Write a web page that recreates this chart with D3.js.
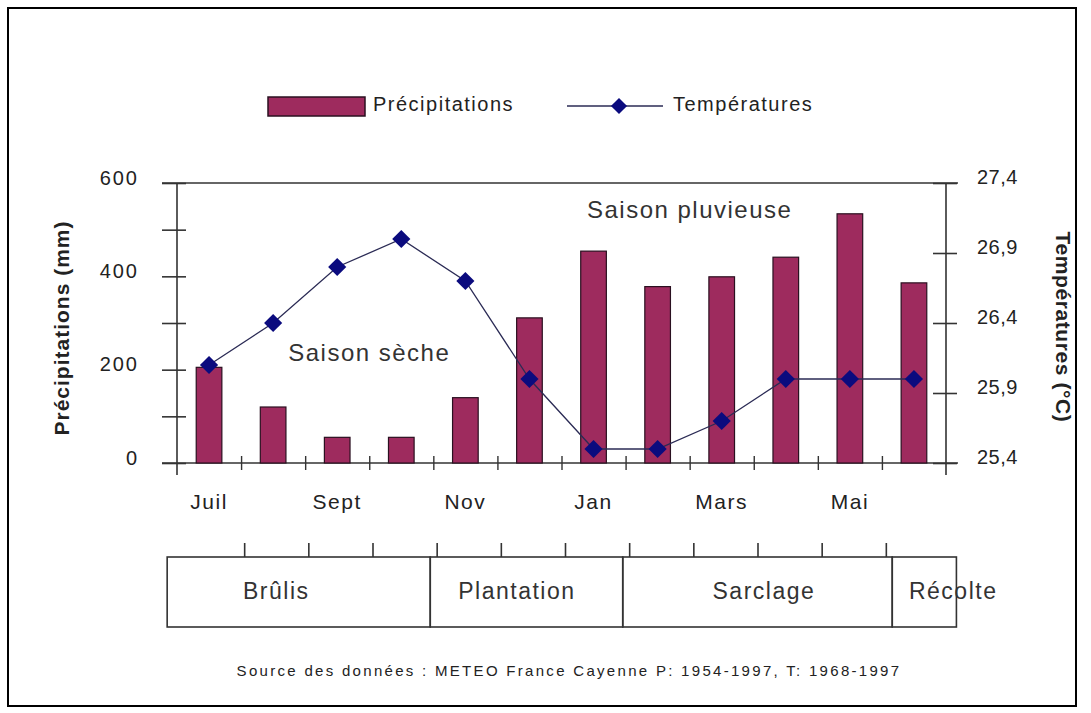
<!DOCTYPE html>
<html>
<head>
<meta charset="utf-8">
<script src="https://cdn.jsdelivr.net/npm/d3@7"></script>
<style>
  html, body { margin: 0; padding: 0; background: #fff; }
  svg { display: block; font-family: "Liberation Sans", Arial, sans-serif; }
</style>
</head>
<body>
<svg id="chart" width="1091" height="713"></svg>
<script>
// ---- data ----
const months = ["Juil","Août","Sept","Oct","Nov","Déc","Jan","Févr","Mars","Avr","Mai","Juin"];
const monthLabels = ["Juil","","Sept","","Nov","","Jan","","Mars","","Mai",""];
const precipitation = [205,120,55,55,140,311,454,378,399,441,534,386];
const temperature = [26.1,26.4,26.8,27.0,26.7,26.0,25.5,25.5,25.7,26.0,26.0,26.0];
const precipTicks = [0,100,200,300,400,500,600];
const precipTickLabels = [0,200,400,600];
const tempTicks = [25.4,25.9,26.4,26.9,27.4];
const phases = ["Brûlis","Plantation","Sarclage","Récolte"];
const phaseBounds = [-0.2,3.9,6.9,11.1,12.1];
const phaseLabelAt = [1.5,5.25,9.1,12.05];
const seasons = ["Saison sèche","Saison pluvieuse"];
const seasonAt = [3.0,8.0];
const seasonTemp = [26.19,27.21];
const legendNames = ["Précipitations","Températures"];
const sourceText = "Source des données : METEO France Cayenne P: 1954-1997, T: 1968-1997";

// ---- styles ----
const barColor = "#9e2b5e";
const markColor = "#0b0b7e";
const ink = "#222";
const fontSize = 20;

const svg = d3.select("#chart");

// outer frame
svg.append("rect").attr("x",8).attr("y",8).attr("width",1068).attr("height",698)
  .attr("fill","none").attr("stroke","#000").attr("stroke-width",2);

const pL = 177, pR = 946, pT = 183, pB = 463;

const x = d3.scaleBand().domain(months).range([pL,pR]).paddingInner(0.6).paddingOuter(0.3);
const xm = d3.scaleLinear().domain([0,12]).range([pL,pR]);
const yP = d3.scaleLinear().domain([0,600]).range([pB,pT]);
const yT = d3.scaleLinear().domain([25.4,27.4]).range([pB,pT]);

// frame lines top/bottom
[pT,pB].forEach(yy => {
  svg.append("line").attr("x1",pL-15).attr("x2",pR+12).attr("y1",yy).attr("y2",yy)
    .attr("stroke","#333").attr("stroke-width",1.6);
});

// left axis
const gL = svg.append("g").attr("transform",`translate(${pL},0)`)
  .call(d3.axisLeft(yP).tickValues(precipTicks).tickSize(14)
        .tickFormat(d => precipTickLabels.includes(d) ? d3.format("d")(d) : ""));
gL.select(".domain").remove();
gL.append("line").attr("x1",0).attr("x2",0).attr("y1",pT).attr("y2",pB+12)
  .attr("stroke","#333").attr("stroke-width",1.6);
gL.selectAll(".tick line").attr("x1",-15).attr("x2",9).attr("stroke","#333").attr("stroke-width",1.6);
gL.selectAll(".tick text").attr("x",-38).attr("dy","0.3em")
  .attr("font-size",fontSize).attr("letter-spacing",2).attr("fill",ink)
  .attr("font-family","'Liberation Sans', Arial, sans-serif")
  .attr("transform","translate(0,-5)");

// right axis
const gR = svg.append("g").attr("transform",`translate(${pR},0)`)
  .call(d3.axisRight(yT).tickValues(tempTicks).tickSize(12)
        .tickFormat(d => d3.format(".1f")(d).replace(".",",")));
gR.select(".domain").remove();
gR.append("line").attr("x1",0).attr("x2",0).attr("y1",pT).attr("y2",pB+12)
  .attr("stroke","#333").attr("stroke-width",1.6);
gR.selectAll(".tick line").attr("x1",-13).attr("x2",11).attr("stroke","#333").attr("stroke-width",1.6);
gR.selectAll(".tick text").attr("x",31).attr("dy","0.3em")
  .attr("font-size",fontSize).attr("letter-spacing",0.5).attr("fill",ink)
  .attr("font-family","'Liberation Sans', Arial, sans-serif")
  .attr("transform","translate(0,-6)");

// x ticks at month boundaries
const gX = svg.append("g").attr("transform",`translate(0,${pB})`)
  .call(d3.axisBottom(xm).tickValues(d3.range(1,12)).tickSize(7).tickFormat(""));
gX.select(".domain").remove();
gX.selectAll(".tick line").attr("y1",-7).attr("y2",7).attr("stroke","#333").attr("stroke-width",1.4);

// bars
svg.append("g").selectAll("rect").data(precipitation).join("rect")
  .attr("x",(d,i)=>x(months[i]))
  .attr("y",d=>yP(d))
  .attr("width",x.bandwidth())
  .attr("height",d=>yP(0)-yP(d))
  .attr("fill",barColor).attr("stroke","#2a1020").attr("stroke-width",1.2);

// temperature line
const line = d3.line().x((d,i)=>x(months[i])+x.bandwidth()/2).y(d=>yT(d));
svg.append("path").datum(temperature).attr("d",line)
  .attr("fill","none").attr("stroke","#2b2b55").attr("stroke-width",1.3);
const diamond = d3.symbol().type(d3.symbolSquare).size(165);
svg.append("g").selectAll("path").data(temperature).join("path")
  .attr("d",diamond)
  .attr("transform",(d,i)=>`translate(${x(months[i])+x.bandwidth()/2},${yT(d)}) rotate(45)`)
  .attr("fill",markColor);

// month labels
svg.append("g").selectAll("text").data(monthLabels).join("text")
  .attr("x",(d,i)=>x(months[i])+x.bandwidth()/2)
  .attr("y",502).attr("dy","0.35em")
  .attr("text-anchor","middle").attr("font-size",21).attr("letter-spacing",1.5)
  .attr("fill",ink).text(d=>d);

// season labels
svg.append("g").selectAll("text").data(seasons).join("text")
  .attr("x",(d,i)=>xm(seasonAt[i]))
  .attr("y",(d,i)=>yT(seasonTemp[i])).attr("dy","0.35em")
  .attr("text-anchor","middle").attr("font-size",24).attr("letter-spacing",1.5)
  .attr("fill","#333").text(d=>d);

// axis titles
svg.append("text").attr("transform","translate(62,328) rotate(-90)")
  .attr("text-anchor","middle").attr("dy","0.35em")
  .attr("font-size",21).attr("font-weight","bold").attr("letter-spacing",1)
  .attr("fill",ink).text("Précipitations (mm)");
svg.append("text").attr("transform","translate(1063,327) rotate(90)")
  .attr("text-anchor","middle").attr("dy","0.35em")
  .attr("font-size",21).attr("font-weight","bold").attr("letter-spacing",0.6)
  .attr("fill",ink).text("Températures (°C)");

// phase boxes
const xb = d3.scaleLinear().domain([0,12]).range([180,950]);
const boxTop = 557, boxBottom = 627;
const gB = svg.append("g");
gB.selectAll("rect").data(phases).join("rect")
  .attr("x",(d,i)=>xb(phaseBounds[i]))
  .attr("y",boxTop)
  .attr("width",(d,i)=>xb(phaseBounds[i+1])-xb(phaseBounds[i]))
  .attr("height",boxBottom-boxTop)
  .attr("fill","none").attr("stroke","#333").attr("stroke-width",1.6);
const gBt = svg.append("g").attr("transform",`translate(0,${boxTop})`)
  .call(d3.axisTop(xb).tickValues(d3.range(1,12)).tickSize(14).tickFormat(""));
gBt.select(".domain").remove();
gBt.selectAll(".tick line").attr("stroke","#333").attr("stroke-width",1.6);
gB.selectAll("text").data(phases).join("text")
  .attr("x",(d,i)=>xb(phaseLabelAt[i]))
  .attr("y",591).attr("dy","0.35em")
  .attr("text-anchor","middle").attr("font-size",23).attr("letter-spacing",1.5)
  .attr("fill","#333").text(d=>d);

// legend
const lg = svg.append("g");
lg.append("rect").attr("x",268).attr("y",97).attr("width",97).attr("height",19)
  .attr("fill",barColor).attr("stroke","#2a1020").attr("stroke-width",1.5);
lg.append("text").attr("x",373).attr("y",104).attr("dy","0.35em")
  .attr("font-size",fontSize).attr("letter-spacing",1.5).attr("fill",ink).text(legendNames[0]);
lg.append("line").attr("x1",567).attr("x2",663).attr("y1",106).attr("y2",106)
  .attr("stroke","#2b2b55").attr("stroke-width",1.5);
lg.append("path").attr("d",d3.symbol().type(d3.symbolSquare).size(130))
  .attr("transform","translate(619,106) rotate(45)").attr("fill",markColor);
lg.append("text").attr("x",673).attr("y",104).attr("dy","0.35em")
  .attr("font-size",fontSize).attr("letter-spacing",1.5).attr("fill",ink).text(legendNames[1]);

// source
svg.append("text").attr("x",569).attr("y",671).attr("dy","0.35em")
  .attr("text-anchor","middle").attr("font-size",15).attr("letter-spacing",2.3)
  .attr("fill",ink).text(sourceText);
</script>
</body>
</html>
